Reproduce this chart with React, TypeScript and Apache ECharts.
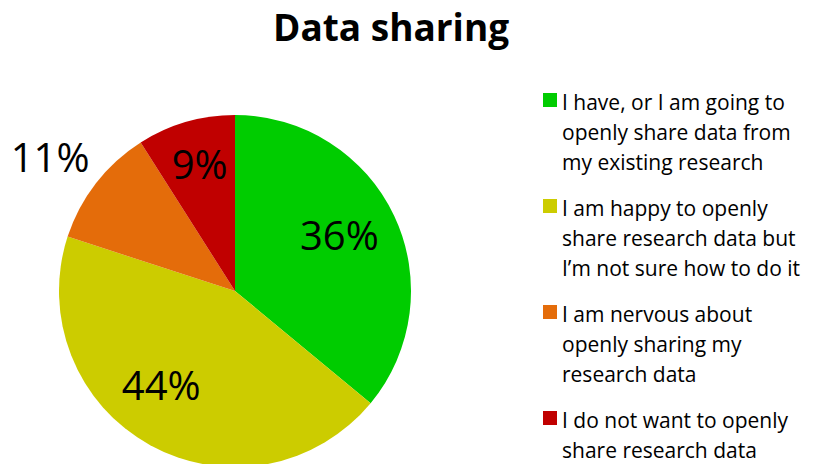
import React, { useEffect, useRef } from "react";
import * as echarts from "echarts";

const categories = [
  "I have, or I am going to\nopenly share data from\nmy existing research",
  "I am happy to openly\nshare research data but\nI’m not sure how to do it",
  "I am nervous about\nopenly sharing my\nresearch data",
  "I do not want to openly\nshare research data\n",
];
const values = [36, 44, 11, 9];
const colors = ["#00CC00", "#CCCC00", "#E46C0A", "#C00000"];
const labelShift: [number, number][] = [
  [22, -18],
  [-30, 14],
  [-113, -79],
  [-10, -40],
];

export default function App() {
  const ref = useRef<HTMLDivElement>(null);
  useEffect(() => {
    if (!ref.current) return;
    const chart = echarts.init(ref.current, undefined, { renderer: "svg" });
    chart.setOption({
      animation: false,
      backgroundColor: "#ffffff",
      title: {
        text: "Data sharing",
        left: 273,
        top: 8,
        padding: 0,
        textStyle: { fontFamily: "Open Sans", fontWeight: "bold", fontSize: 37, color: "#000" },
      },
      legend: {
        orient: "vertical",
        left: 543,
        top: 87,
        height: 440,
        padding: 0,
        itemGap: 16,
        itemWidth: 14,
        itemHeight: 90,
        icon: "path://M0,0 M0,6H14V20H0Z M0,90",
        selectedMode: false,
        textStyle: { fontFamily: "Open Sans", fontSize: 21, lineHeight: 30, color: "#000" },
        data: categories,
      },
      series: [
        {
          type: "pie",
          center: [235, 291],
          radius: 176,
          startAngle: 90,
          clockwise: true,
          label: {
            show: true,
            position: "inside",
            formatter: "{c}%",
            fontFamily: "Open Sans",
            fontSize: 40,
            color: "#000",
          },
          labelLine: { show: false },
          labelLayout: (p: any) => ({ dx: labelShift[p.dataIndex][0], dy: labelShift[p.dataIndex][1] }),
          emphasis: { disabled: true },
          data: categories.map((name, i) => ({
            name,
            value: values[i],
            itemStyle: { color: colors[i] },
          })),
        },
      ],
    });
    return () => chart.dispose();
  }, []);
  return (
    <div
      ref={ref}
      style={{ position: "fixed", left: 0, top: 0, width: 817, height: 464 }}
    />
  );
}
